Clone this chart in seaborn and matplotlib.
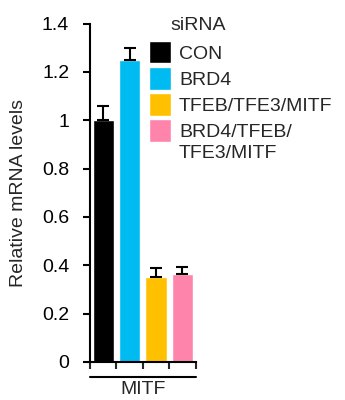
import matplotlib
matplotlib.use("Agg")
import matplotlib.pyplot as plt
import matplotlib.transforms as mtransforms
import seaborn as sns
import pandas as pd

groups = ["CON", "BRD4", "TFEB/TFE3/MITF", "BRD4/TFEB/\nTFE3/MITF"]
values = [1.0, 1.25, 0.35, 0.363]
errors = [0.058, 0.048, 0.038, 0.031]
colors = ["#000000", "#00BAF2", "#FFC000", "#FF84AC"]
gene = "MITF"
yticks = [0, 0.2, 0.4, 0.6, 0.8, 1.0, 1.2, 1.4]
yticklabels = ["0", "0.2", "0.4", "0.6", "0.8", "1", "1.2", "1.4"]

sns.set_style("ticks")
plt.rcParams["font.family"] = ["Liberation Sans", "DejaVu Sans"]
fs = 14

df = pd.DataFrame({"siRNA": groups, "value": values})

fig = plt.figure(figsize=(3.45, 4.0), dpi=100)
ax = fig.add_axes([90 / 345, 38 / 400, 105.5 / 345, 338.5 / 400])

sns.barplot(data=df, x="siRNA", y="value", hue="siRNA", palette=colors,
            width=0.81, saturation=1, legend=True, ax=ax)
ax.errorbar(range(len(values)), values, yerr=[[0] * len(values), errors],
            fmt="none", ecolor="black", elinewidth=1.5, capsize=4.2, capthick=1.5)

ax.set_xlim(-0.5, 3.5)
ax.set_ylim(0, 1.4)
ax.set_yticks(yticks)
ax.set_yticklabels(yticklabels)
ax.set_xticks([])
ax.set_xticks([-0.5, 0.5, 1.5, 2.5, 3.5], minor=True)
ax.tick_params(axis="y", labelsize=fs, length=5, width=1.5, pad=10, colors="black")
ax.tick_params(axis="x", which="minor", length=5, width=1.5)
ax.set_xlabel("")
ax.set_ylabel("Relative mRNA levels", fontsize=fs)
ax.yaxis.set_label_coords(-0.597, 0.5)
for s in ["top", "right"]:
    ax.spines[s].set_visible(False)
for s in ["left", "bottom"]:
    ax.spines[s].set_linewidth(1.5)
    ax.spines[s].set_color("black")

trans = mtransforms.blended_transform_factory(ax.transData, ax.transAxes)
ax.plot([-0.5, 3.5], [-0.044, -0.044], color="black", lw=1.5,
        transform=trans, clip_on=False)
ax.text(1.5, -0.081, gene, transform=trans, ha="center", va="center", fontsize=fs)

# legend: first line of each label next to the swatch, extra lines placed below
handles, _ = ax.get_legend_handles_labels()
first_lines = [g.split("\n")[0] for g in groups]
ax.legend(handles, first_lines, loc="upper left",
          bbox_to_anchor=(149 / 345, 1 - 40.7 / 400), bbox_transform=fig.transFigure,
          frameon=False, fontsize=fs, handlelength=1.15, handleheight=1.42,
          handletextpad=0.39, labelspacing=0.18, borderpad=0, borderaxespad=0)
fig.text(179 / 345, 1 - 153 / 400, groups[-1].split("\n")[1],
         ha="left", va="center", fontsize=fs)
fig.text(170 / 345, 1 - 25 / 400, "siRNA", ha="left", va="center", fontsize=fs)

fig.savefig("out.png", dpi=100)
